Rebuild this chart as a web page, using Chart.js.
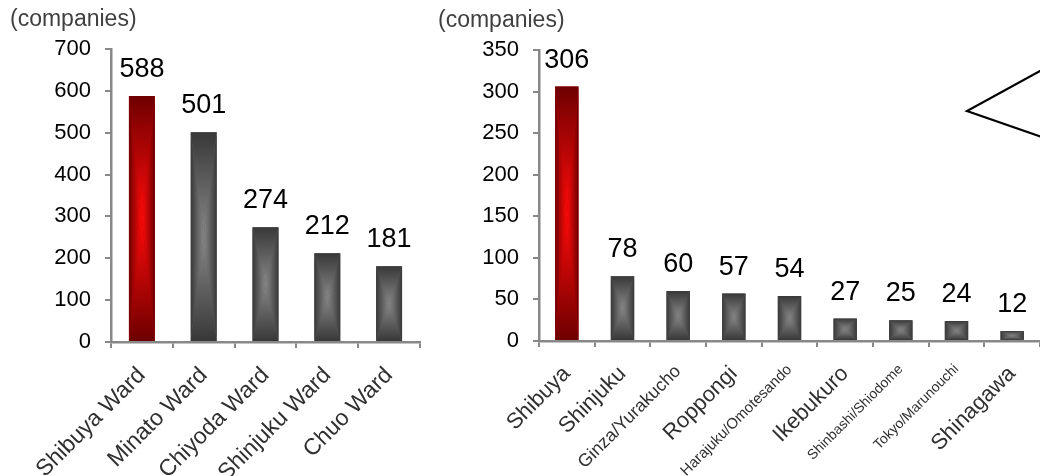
<!DOCTYPE html>
<html>
<head>
<meta charset="utf-8">
<script src="https://cdn.jsdelivr.net/npm/chart.js@4.4.0/dist/chart.umd.min.js"></script>
<style>
  body { margin: 0; background: #fff; }
  #wrap { position: relative; width: 1040px; height: 476px; overflow: hidden; }
  #wards { position: absolute; left: 0; top: 0; }
  #areas { position: absolute; left: 430px; top: 0; }
</style>
</head>
<body>
<div id="wrap">
  <canvas id="wards" width="430" height="476"></canvas>
  <canvas id="areas" width="610" height="476"></canvas>
</div>
<script>
// datos
const unitLabel = "(companies)";

const wardLabels = ["Shibuya Ward", "Minato Ward", "Chiyoda Ward", "Shinjuku Ward", "Chuo Ward"];
const wardValues = [588, 501, 274, 212, 181];
const wardTicks = [0, 100, 200, 300, 400, 500, 600, 700];

const areaLabels = ["Shibuya", "Shinjuku", "Ginza/Yurakucho", "Roppongi", "Harajuku/Omotesando",
  "Ikebukuro", "Shinbashi/Shiodome", "Tokyo/Marunouchi", "Shinagawa"];
const areaValues = [306, 78, 60, 57, 54, 27, 25, 24, 12];
const areaTicks = [0, 50, 100, 150, 200, 250, 300, 350];

// estilos
const FONT = '"Liberation Sans", Arial, sans-serif';
const AXIS_GREY = "#888888";
const wardLabelSizes = [23, 23, 23, 23, 23];
const areaLabelSizes = [22, 22, 18, 22, 15, 22, 14, 14, 22];

// relleno tipo "degradado de ruta" rectangular: 4 triangulos hacia el centro
const pathGradientBars = {
  id: "pathGradientBars",
  afterDatasetsDraw(chart) {
    const ctx = chart.ctx;
    chart.getDatasetMeta(0).data.forEach((bar, i) => {
      const { x, y, base, width } = bar.getProps(["x", "y", "base", "width"], true);
      const hot = i === 0;
      const edge = hot ? "#6e0000" : "#383838";
      const mid = hot ? "#ff0a0a" : "#878787";
      const l = x - width / 2, r = x + width / 2, t = y, b = base;
      const cx = x, cy = (t + b) / 2;
      const grad = (x0, y0, x1, y1) => {
        const g = ctx.createLinearGradient(x0, y0, x1, y1);
        g.addColorStop(0, edge);
        g.addColorStop(1, mid);
        return g;
      };
      const tri = (a, c, g) => {
        ctx.beginPath();
        ctx.moveTo(a[0], a[1]);
        ctx.lineTo(c[0], c[1]);
        ctx.lineTo(cx, cy);
        ctx.closePath();
        ctx.fillStyle = g;
        ctx.fill();
      };
      ctx.save();
      tri([l, t], [r, t], grad(0, t, 0, cy));
      tri([l, b], [r, b], grad(0, b, 0, cy));
      tri([l, t], [l, b], grad(l, 0, cx, 0));
      tri([r, t], [r, b], grad(r, 0, cx, 0));
      ctx.restore();
    });
  }
};

// etiquetas de valor sobre cada barra
const valueLabels = {
  id: "valueLabels",
  afterDatasetsDraw(chart) {
    const ctx = chart.ctx;
    const data = chart.data.datasets[0].data;
    ctx.save();
    ctx.font = "27px " + FONT;
    ctx.fillStyle = "#000";
    ctx.textAlign = "center";
    ctx.textBaseline = "alphabetic";
    chart.getDatasetMeta(0).data.forEach((bar, i) => {
      ctx.fillText(String(data[i]), bar.x, bar.y - 19);
    });
    ctx.restore();
  }
};

// punta del globo de texto que asoma por la derecha
const calloutTip = {
  id: "calloutTip",
  afterDraw(chart) {
    const ctx = chart.ctx;
    const w = chart.width;
    ctx.save();
    ctx.strokeStyle = "#000";
    ctx.lineWidth = 2.2;
    ctx.beginPath();
    ctx.moveTo(w + 2, 70);
    ctx.lineTo(w - 73, 111);
    ctx.lineTo(w + 2, 137);
    ctx.stroke();
    ctx.restore();
  }
};

function buildChart(id, labels, values, ticks, opts) {
  const bars = values.map((_, i) => (i === 0 ? "#b00000" : "#5a5a5a"));
  return new Chart(document.getElementById(id), {
    type: "bar",
    data: {
      labels,
      datasets: [{
        data: values,
        backgroundColor: bars,
        borderWidth: 0,
        categoryPercentage: 1,
        barPercentage: 0.42
      }]
    },
    options: {
      responsive: false,
      animation: false,
      devicePixelRatio: 1,
      layout: { padding: { left: opts.padLeft, right: opts.padRight, top: opts.padTop, bottom: 0 } },
      plugins: {
        legend: { display: false },
        tooltip: { enabled: false },
        title: {
          display: true,
          text: unitLabel,
          align: "start",
          color: "#404040",
          font: { family: FONT, size: 23, weight: "normal" },
          padding: { top: 0, bottom: opts.titleGap }
        }
      },
      scales: {
        x: {
          border: { color: AXIS_GREY, width: 2.5 },
          grid: { offset: true, drawOnChartArea: false, drawTicks: true, tickLength: 6, color: AXIS_GREY, lineWidth: 2 },
          ticks: {
            autoSkip: false,
            minRotation: 45,
            maxRotation: 45,
            padding: 14,
            color: "#303030",
            font: (c) => ({ family: FONT, size: opts.labelSizes[c.index] })
          },
          afterFit: (s) => { s.height = opts.xHeight; s.paddingLeft = 0; s.paddingRight = 0; }
        },
        y: {
          min: 0,
          max: ticks[ticks.length - 1],
          border: { color: AXIS_GREY, width: 2.5 },
          grid: { drawOnChartArea: false, drawTicks: true, tickLength: 6, color: AXIS_GREY, lineWidth: 2 },
          ticks: { color: "#000", padding: 14, font: { family: FONT, size: 22 } },
          afterBuildTicks: (s) => { s.ticks = ticks.map((v) => ({ value: v })); },
          afterFit: (s) => { s.width = opts.yWidth; }
        }
      }
    },
    plugins: [pathGradientBars, valueLabels].concat(opts.extra || [])
  });
}

buildChart("wards", wardLabels, wardValues, wardTicks, {
  padLeft: 10, padRight: 10, padTop: 6, titleGap: 15.4, yWidth: 101, xHeight: 134,
  labelSizes: wardLabelSizes
});

buildChart("areas", areaLabels, areaValues, areaTicks, {
  padLeft: 8, padRight: 0, padTop: 7, titleGap: 15.4, yWidth: 101, xHeight: 135,
  labelSizes: areaLabelSizes, extra: [calloutTip]
});
</script>
</body>
</html>
